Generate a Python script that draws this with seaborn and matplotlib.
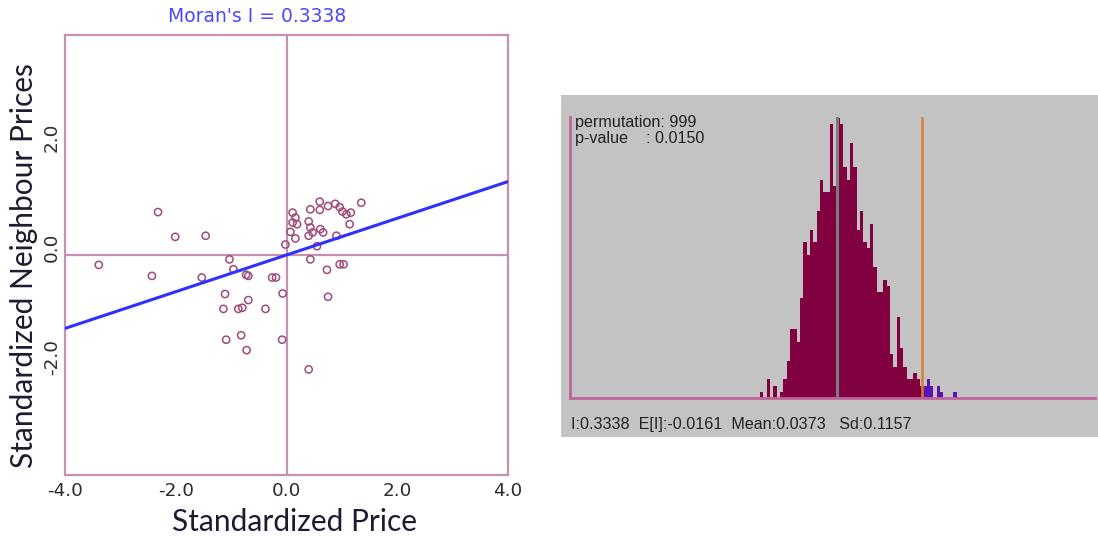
import numpy as np
import pandas as pd
import matplotlib
matplotlib.use("Agg")
import matplotlib.pyplot as plt
from matplotlib.patches import Rectangle
from matplotlib.transforms import ScaledTranslation
import seaborn as sns

# Moran scatter: standardized price vs. spatial lag of neighbours
std_price = [-2.32, -2.01, -1.46, -3.39, -2.43, -1.53, -1.03, -0.96, -0.73, -0.69,
             -0.26, -0.19, -0.07, -1.11, -1.14, -0.87, -0.80, -0.69, -0.38, -1.09,
             -0.82, -0.72, -0.08, -0.02, 0.11, 0.16, 0.11, 0.19, 0.07, 0.16,
             0.43, 0.60, 0.60, 0.75, 0.88, 0.96, 1.01, 1.08, 1.16, 1.14,
             1.35, 0.40, 0.43, 0.47, 0.40, 0.61, 0.66, 0.55, 0.90, 0.43,
             0.73, 0.96, 1.03, 0.75, 0.40]
lag_price = [0.78, 0.33, 0.35, -0.18, -0.38, -0.41, -0.08, -0.26, -0.36, -0.38,
             -0.41, -0.41, -0.70, -0.71, -0.98, -0.98, -0.96, -0.82, -0.98, -1.54,
             -1.46, -1.73, -1.54, 0.19, 0.77, 0.68, 0.59, 0.56, 0.42, 0.30,
             0.83, 0.97, 0.82, 0.89, 0.93, 0.87, 0.79, 0.74, 0.77, 0.56,
             0.95, 0.61, 0.50, 0.41, 0.35, 0.47, 0.41, 0.16, 0.35, -0.08,
             -0.27, -0.17, -0.17, -0.76, -2.08]

moran_i = 0.3338
expected_i = -0.0161
perm_mean = 0.0373
perm_sd = 0.1157
n_perm = 999
p_value = 0.0150

# permutation reference distribution, counts per bin (left to right)
perm_counts = [1, 0, 3, 0, 2, 0, 1, 3, 6, 11, 11, 9, 16, 25, 23, 27, 25, 30, 35, 33, 33, 44, 34,
               45, 44, 37, 35, 41, 37, 27, 30, 25, 24, 28, 21, 17, 17, 19, 18, 7, 5, 13, 8, 5, 3, 3, 4, 3, 2,
               2, 3, 2, 0, 2, 1, 0, 0, 0, 1]
bin_w = 0.01363
first_bin = -23   # bins counted from E[I]

sns.set_style("white")
plt.rcParams['font.family'] = ['DejaVu Sans']

pink = '#c890b0'
fig = plt.figure(figsize=(10.98, 5.40), dpi=100)

# ---- left: Moran scatter plot
ax = fig.add_axes([0.0592, 0.1204, 0.4035, 0.8148])
ax.axhline(0, color=pink, lw=1.6, zorder=1)
ax.axvline(0, color=pink, lw=1.6, zorder=1)
sns.scatterplot(x=std_price, y=lag_price, ax=ax, marker='o', s=27,
                facecolor='none', edgecolor='#a04a78', linewidth=1.1, zorder=3)
line_x = np.array([-4.0, 4.0])
sns.lineplot(x=line_x, y=moran_i * line_x, ax=ax, color='#2f2fff', lw=2.2, zorder=4)

ax.set_xlim(-4, 4)
ax.set_ylim(-4, 4)
ax.set_xticks([-4, -2, 0, 2, 4])
ax.set_xticklabels([f"{v:.1f}" for v in [-4, -2, 0, 2, 4]])
ax.set_yticks([-2, 0, 2])
ax.set_yticklabels([f"{v:.1f}" for v in [-2, 0, 2]], rotation=90, va='center')
ax.tick_params(direction='in', length=5, width=1.3, color=pink, labelsize=13.2,
               labelcolor='#2c2c2c')
ax.tick_params(axis='x', pad=5)
ax.tick_params(axis='y', pad=3)
shift_up = ScaledTranslation(0, 0.08, fig.dpi_scale_trans)
for lab in ax.get_yticklabels():
    lab.set_transform(lab.get_transform() + shift_up)
for s in ax.spines.values():
    s.set_color(pink)
    s.set_linewidth(1.6)

ax.set_xlabel('Standardized Price', family='Lato', fontsize=21.5, color='#1c1c30')
ax.set_ylabel('Standardized Neighbour Prices', family='Lato', fontsize=21.5, color='#1c1c30')
ax.xaxis.label.set_va('center')
ax.yaxis.label.set_va('center')
ax.xaxis.set_label_coords(0.518, -0.107)
ax.yaxis.set_label_coords(-0.093, 0.475)

fig.text(257 / 1098, 1 - 17 / 540, f"Moran's I = {moran_i:.4f}", color='#4848ff',
         fontsize=13.5, ha='center', va='center')

# ---- right: permutation histogram
fig.add_artist(Rectangle((0.5109, 0.1907), 0.4891, 0.6333, transform=fig.transFigure,
                         facecolor='#c3c3c3', edgecolor='none', zorder=-1))
hx = fig.add_axes([0.5191, 0.263, 0.4781, 0.5204])
hx.set_facecolor('#c3c3c3')

edges = expected_i + bin_w * np.arange(first_bin, first_bin + len(perm_counts) + 1)
centers = (edges[:-1] + edges[1:]) / 2
perm_df = pd.DataFrame({
    'I': centers,
    'count': perm_counts,
    'tail': np.where(edges[:-1] >= moran_i, 'upper', 'lower'),
})
# filled step outline: one polygon per tail, so no seams between bars
sns.histplot(data=perm_df, x='I', weights='count', bins=edges.tolist(), hue='tail',
             palette={'lower': '#800040', 'upper': '#5a14b4'}, multiple='layer',
             element='step', fill=True, alpha=1, linewidth=0, legend=False, ax=hx)
hx.axvline(expected_i, color='#7c7c7c', lw=2.2, zorder=5)
hx.axvline(moran_i, color='#e07a2c', lw=1.8, zorder=5)

hx.set_xlim(-1.1065, 1.040)
hx.set_ylim(0, 45.1)
hx.set_xticks([])
hx.set_yticks([])
hx.set_xlabel('')
hx.set_ylabel('')
for side in ['top', 'right']:
    hx.spines[side].set_visible(False)
for side in ['left', 'bottom']:
    hx.spines[side].set_color('#c0649c')
    hx.spines[side].set_linewidth(2)
    hx.spines[side].set_zorder(6)

txt = dict(family='Liberation Sans', fontsize=11.6, color='#222222', va='center')
fig.text(575 / 1098, 1 - 123 / 540, f"permutation: {n_perm}", **txt)
fig.text(575 / 1098, 1 - 138 / 540, f"p-value    : {p_value:.4f}", **txt)
fig.text(571 / 1098, 1 - 425 / 540,
         f"I:{moran_i:.4f}  E[I]:{expected_i:.4f}  Mean:{perm_mean:.4f}   Sd:{perm_sd:.4f}", **txt)

fig.savefig('out.png', dpi=100)
